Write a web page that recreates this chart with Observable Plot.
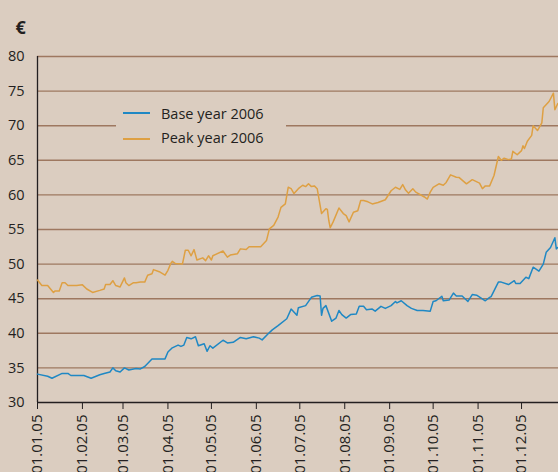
<!DOCTYPE html>
<html>
<head>
<meta charset="utf-8">
<script src="https://cdn.jsdelivr.net/npm/d3@7"></script>
<script src="https://cdn.jsdelivr.net/npm/@observablehq/plot@0.6"></script>
<style>
  html, body { margin: 0; padding: 0; background: #dbcdc0; }
  #wrap { position: relative; width: 558px; height: 472px; overflow: hidden; font-family: "Open Sans", sans-serif; }
  #legend { position: absolute; left: 116px; top: 100px; width: 170px; height: 50px; background: #dbcdc0; }
  .sw { position: absolute; left: 7px; width: 27px; height: 2px; }
  .lt { position: absolute; left: 45px; font-size: 14.5px; line-height: 16px; color: #231f20; white-space: nowrap; }
</style>
</head>
<body>
<div id="wrap"></div>
<script>
const seriesNames = ["Base year 2006", "Peak year 2006"];
const seriesColors = ["#1f88c4", "#dea043"];
const yTicks = [30, 35, 40, 45, 50, 55, 60, 65, 70, 75, 80];
const gridTicks = [35, 40, 45, 50, 55, 60, 65, 70, 75, 80];
const currency = "€";

const baseDates = ["2005-01-01","2005-01-08","2005-01-11","2005-01-18","2005-01-22","2005-01-24","2005-02-02","2005-02-07","2005-02-13","2005-02-16","2005-02-20","2005-02-22","2005-02-24","2005-02-27","2005-03-02","2005-03-05","2005-03-10","2005-03-13","2005-03-16","2005-03-21","2005-03-30","2005-04-01","2005-04-04","2005-04-08","2005-04-10","2005-04-12","2005-04-14","2005-04-17","2005-04-20","2005-04-22","2005-04-26","2005-04-28","2005-04-30","2005-05-02","2005-05-09","2005-05-12","2005-05-16","2005-05-21","2005-05-25","2005-05-30","2005-06-03","2005-06-05","2005-06-09","2005-06-12","2005-06-16","2005-06-22","2005-06-25","2005-06-29","2005-06-30","2005-07-05","2005-07-09","2005-07-13","2005-07-15","2005-07-16","2005-07-17","2005-07-19","2005-07-23","2005-07-26","2005-07-28","2005-07-30","2005-08-02","2005-08-05","2005-08-09","2005-08-11","2005-08-14","2005-08-16","2005-08-20","2005-08-22","2005-08-26","2005-08-29","2005-09-02","2005-09-05","2005-09-06","2005-09-09","2005-09-13","2005-09-16","2005-09-20","2005-09-24","2005-09-29","2005-10-01","2005-10-03","2005-10-07","2005-10-08","2005-10-12","2005-10-15","2005-10-17","2005-10-21","2005-10-25","2005-10-28","2005-10-31","2005-11-06","2005-11-09","2005-11-10","2005-11-15","2005-11-17","2005-11-22","2005-11-26","2005-11-27","2005-11-30","2005-12-04","2005-12-06","2005-12-09","2005-12-13","2005-12-16","2005-12-18","2005-12-21","2005-12-24","2005-12-25","2005-12-26"];
const baseValues = [34.1,33.8,33.5,34.2,34.2,33.9,33.9,33.5,34.0,34.2,34.4,35.0,34.6,34.4,35.0,34.7,34.9,34.85,35.2,36.3,36.3,37.3,37.9,38.3,38.1,38.3,39.4,39.2,39.5,38.2,38.5,37.4,38.2,37.85,39.0,38.6,38.7,39.4,39.2,39.5,39.3,39.05,39.9,40.5,41.1,42.1,43.5,42.6,43.7,44.0,45.2,45.45,45.4,42.6,43.6,44.0,41.75,42.2,43.3,42.7,42.2,42.7,42.8,43.9,43.9,43.4,43.5,43.2,43.9,43.6,44.0,44.6,44.4,44.7,44.0,43.6,43.3,43.3,43.2,44.6,44.7,45.35,44.7,44.8,45.8,45.4,45.4,44.6,45.6,45.5,44.7,45.2,45.3,47.4,47.4,47.05,47.6,47.2,47.2,48.1,47.9,49.55,48.98,50.0,51.7,52.4,53.8,52.2,52.4];

const peakDates = ["2005-01-01","2005-01-04","2005-01-08","2005-01-10","2005-01-12","2005-01-13","2005-01-16","2005-01-18","2005-01-20","2005-01-22","2005-01-28","2005-02-01","2005-02-04","2005-02-08","2005-02-13","2005-02-16","2005-02-17","2005-02-20","2005-02-22","2005-02-24","2005-02-27","2005-03-02","2005-03-03","2005-03-05","2005-03-08","2005-03-10","2005-03-13","2005-03-16","2005-03-18","2005-03-21","2005-03-22","2005-03-26","2005-03-30","2005-04-01","2005-04-03","2005-04-04","2005-04-06","2005-04-11","2005-04-13","2005-04-15","2005-04-17","2005-04-19","2005-04-21","2005-04-25","2005-04-27","2005-04-29","2005-05-01","2005-05-02","2005-05-04","2005-05-09","2005-05-12","2005-05-14","2005-05-19","2005-05-21","2005-05-25","2005-05-27","2005-06-04","2005-06-08","2005-06-10","2005-06-13","2005-06-16","2005-06-18","2005-06-21","2005-06-23","2005-06-25","2005-06-27","2005-06-30","2005-07-03","2005-07-05","2005-07-07","2005-07-09","2005-07-11","2005-07-13","2005-07-16","2005-07-19","2005-07-20","2005-07-21","2005-07-22","2005-07-24","2005-07-28","2005-07-31","2005-08-02","2005-08-04","2005-08-07","2005-08-10","2005-08-12","2005-08-14","2005-08-17","2005-08-20","2005-08-24","2005-08-29","2005-09-02","2005-09-05","2005-09-08","2005-09-10","2005-09-12","2005-09-14","2005-09-17","2005-09-19","2005-09-25","2005-09-27","2005-09-29","2005-10-01","2005-10-05","2005-10-08","2005-10-10","2005-10-13","2005-10-17","2005-10-19","2005-10-24","2005-10-28","2005-11-02","2005-11-04","2005-11-06","2005-11-09","2005-11-12","2005-11-15","2005-11-17","2005-11-19","2005-11-22","2005-11-24","2005-11-25","2005-11-28","2005-12-01","2005-12-02","2005-12-03","2005-12-05","2005-12-08","2005-12-09","2005-12-12","2005-12-15","2005-12-16","2005-12-20","2005-12-23","2005-12-24","2005-12-26"];
const peakValues = [47.7,46.9,46.9,46.4,45.9,46.1,46.1,47.3,47.3,46.9,46.9,47.0,46.4,45.9,46.2,46.4,47.05,47.05,47.6,46.9,46.7,48.0,47.3,46.9,47.3,47.3,47.4,47.4,48.4,48.6,49.2,48.9,48.4,49.1,50.1,50.4,50.1,50.0,52.0,52.0,51.2,52.1,50.6,50.9,50.5,51.2,50.6,51.2,51.4,51.9,51.0,51.3,51.5,52.2,52.1,52.5,52.5,53.4,55.1,55.6,56.8,58.2,58.7,61.1,60.9,60.2,60.9,61.4,61.2,61.6,61.2,61.3,60.9,57.3,58.0,57.9,56.3,55.25,56.1,58.1,57.3,57.0,56.1,57.5,57.7,59.2,59.2,59.0,58.7,58.9,59.3,60.6,61.1,60.8,61.5,60.7,60.25,60.9,60.4,59.7,59.4,60.4,61.1,61.6,61.4,61.8,62.9,62.55,62.5,61.6,62.2,61.7,60.9,61.3,61.3,62.8,65.55,65.0,65.3,65.1,65.2,66.3,65.8,66.4,67.1,66.7,67.75,68.6,70.0,69.3,70.4,72.6,73.5,74.7,72.3,73.2];

const xStart = new Date("2005-01-01");
const xEnd = new Date("2005-12-26T12:00:00Z");
const monthTicks = d3.utcMonth.range(new Date("2005-01-01"), new Date("2005-12-02"));

const base = baseDates.map((d, i) => ({date: new Date(d), value: baseValues[i]}));
const peak = peakDates.map((d, i) => ({date: new Date(d), value: peakValues[i]}));

const ink = "#231f20";
const gridColor = "#9e7860";

const chart = Plot.plot({
  width: 558,
  height: 472,
  marginLeft: 37,
  marginRight: 0,
  marginTop: 56,
  marginBottom: 70,
  style: {background: "#dbcdc0", fontFamily: "Open Sans, sans-serif", color: ink, overflow: "visible"},
  x: {type: "utc", domain: [xStart, xEnd]},
  y: {domain: [30, 80]},
  marks: [
    Plot.gridY(gridTicks, {stroke: gridColor, strokeOpacity: 1, strokeWidth: 1.4}),
    Plot.axisY(yTicks, {tickSize: 0, tickPadding: 13, fontSize: 14.5, label: null, fill: ink}),
    Plot.axisX(monthTicks, {tickFormat: d3.utcFormat("%d.%m.%y"), tickRotate: -90, tickSize: 7, tickPadding: 5, fontSize: 15, label: null, stroke: ink, fill: ink}),
    Plot.ruleY([30], {stroke: ink, strokeWidth: 1.3}),
    Plot.ruleX([xStart], {y1: 30, y2: 80, stroke: ink, strokeWidth: 1.3}),
    Plot.line(peak, {x: "date", y: "value", stroke: seriesColors[1], strokeWidth: 1.5}),
    Plot.line(base, {x: "date", y: "value", stroke: seriesColors[0], strokeWidth: 1.5}),
    Plot.text([currency], {frameAnchor: "top-left", dx: -22, dy: -35, fontSize: 18, fontWeight: "bold", fill: ink})
  ]
});

const wrap = document.getElementById("wrap");
wrap.appendChild(chart);

const legend = document.createElement("div");
legend.id = "legend";
seriesNames.forEach((name, i) => {
  const sw = document.createElement("div");
  sw.className = "sw";
  sw.style.top = (12 + i * 26) + "px";
  sw.style.background = seriesColors[i];
  legend.appendChild(sw);
  const t = document.createElement("div");
  t.className = "lt";
  t.style.top = (5.5 + i * 24.5) + "px";
  t.textContent = name;
  legend.appendChild(t);
});
wrap.appendChild(legend);
</script>
</body>
</html>
